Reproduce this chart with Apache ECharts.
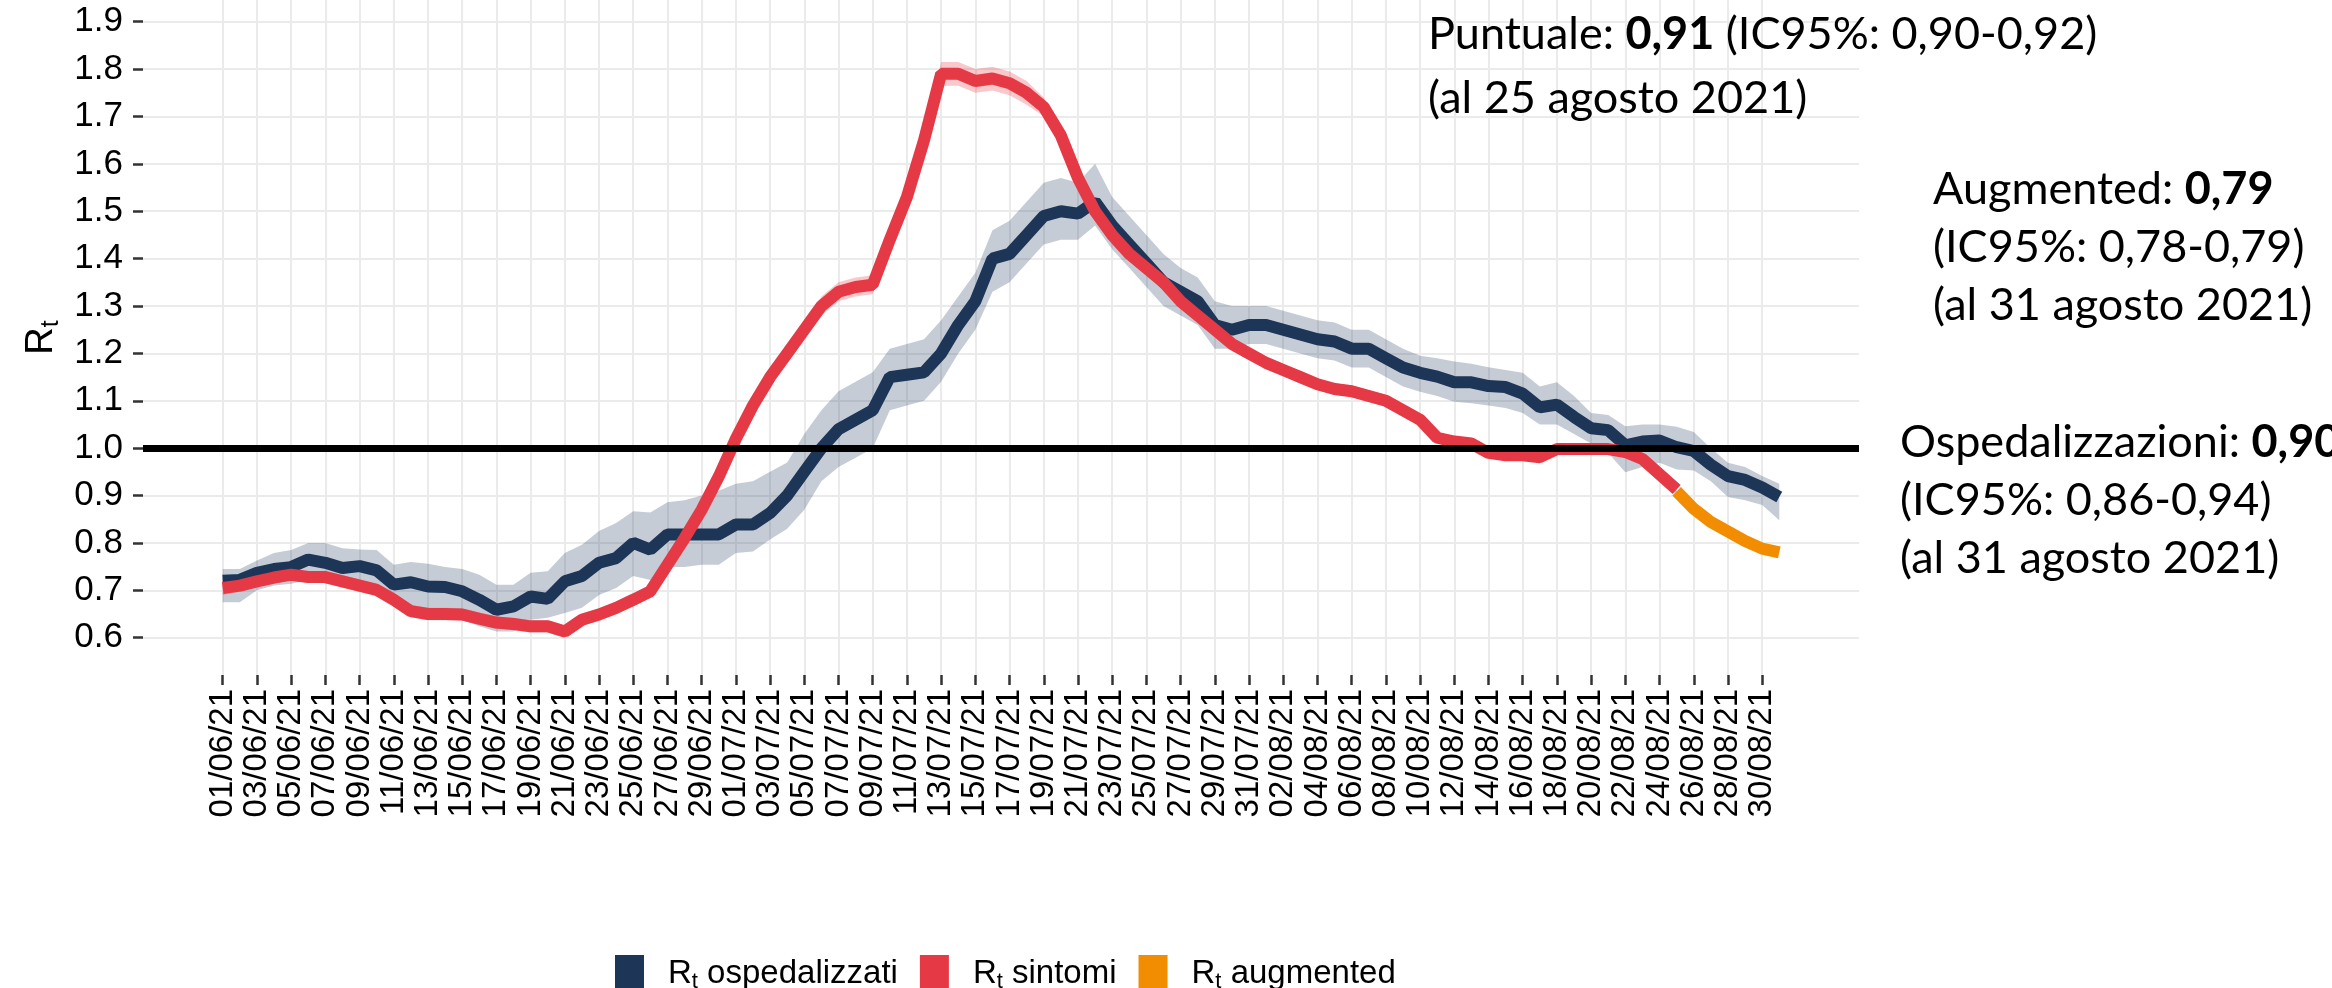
<!DOCTYPE html>
<html><head><meta charset="utf-8">
<script src="https://cdn.jsdelivr.net/npm/echarts@6/dist/echarts.min.js"></script>
<style>html,body{margin:0;padding:0;background:#fff}#c{width:2332px;height:988px}</style>
</head><body><div id="c"></div>
<script>
// ---- DATA (day index 0 = 01/06/21, last = 31/08/21) ----
const tickLabels = ['01/06/21','03/06/21','05/06/21','07/06/21','09/06/21','11/06/21','13/06/21','15/06/21','17/06/21','19/06/21','21/06/21','23/06/21','25/06/21','27/06/21','29/06/21',
 '01/07/21','03/07/21','05/07/21','07/07/21','09/07/21','11/07/21','13/07/21','15/07/21','17/07/21','19/07/21','21/07/21','23/07/21','25/07/21','27/07/21','29/07/21','31/07/21',
 '02/08/21','04/08/21','06/08/21','08/08/21','10/08/21','12/08/21','14/08/21','16/08/21','18/08/21','20/08/21','22/08/21','24/08/21','26/08/21','28/08/21','30/08/21'];
const yTicks = [0.6,0.7,0.8,0.9,1.0,1.1,1.2,1.3,1.4,1.5,1.6,1.7,1.8,1.9];

const ospedalizzati = [0.72,0.722,0.737,0.745,0.749,0.765,0.758,0.747,0.751,0.742,
 0.712,0.717,0.708,0.707,0.698,0.68,0.659,0.666,0.687,0.682,
 0.719,0.73,0.758,0.768,0.80,0.786,0.818,0.818,0.818,0.818,
 0.839,0.839,0.863,0.9,0.95,1.0,1.04,1.06,1.08,1.15,
 1.155,1.16,1.2,1.26,1.31,1.4,1.41,1.45,1.49,1.5,
 1.495,1.52,1.47,1.43,1.39,1.35,1.33,1.31,1.26,1.25,
 1.26,1.26,1.25,1.24,1.23,1.225,1.21,1.21,1.19,1.17,
 1.159,1.151,1.139,1.139,1.131,1.129,1.115,1.086,1.092,1.066,
 1.042,1.038,1.006,1.014,1.016,1.002,0.994,0.965,0.941,0.933,
 0.917,0.897];
const ospedalizzatiLo = [0.675,0.675,0.70,0.71,0.714,0.722,0.72,0.714,0.708,0.705,
 0.666,0.666,0.656,0.649,0.638,0.624,0.613,0.613,0.638,0.642,
 0.652,0.663,0.69,0.705,0.73,0.722,0.749,0.749,0.754,0.754,
 0.779,0.782,0.807,0.83,0.87,0.93,0.96,0.98,1.0,1.08,
 1.09,1.1,1.14,1.2,1.25,1.33,1.35,1.39,1.43,1.44,
 1.44,1.47,1.42,1.38,1.34,1.3,1.28,1.26,1.21,1.21,
 1.22,1.22,1.21,1.2,1.19,1.185,1.17,1.17,1.15,1.13,
 1.119,1.11,1.098,1.095,1.09,1.085,1.074,1.05,1.05,1.03,
 1.01,0.99,0.949,0.96,0.969,0.955,0.953,0.93,0.897,0.89,
 0.88,0.848];
const ospedalizzatiHi = [0.745,0.745,0.763,0.779,0.785,0.80,0.80,0.789,0.786,0.785,
 0.754,0.76,0.756,0.749,0.745,0.733,0.712,0.712,0.737,0.74,
 0.779,0.796,0.825,0.842,0.867,0.864,0.886,0.89,0.90,0.91,
 0.925,0.93,0.95,0.97,1.03,1.08,1.12,1.14,1.16,1.21,
 1.22,1.23,1.27,1.32,1.37,1.46,1.48,1.52,1.56,1.57,
 1.56,1.60,1.53,1.49,1.45,1.41,1.38,1.36,1.31,1.30,
 1.30,1.30,1.29,1.28,1.27,1.265,1.25,1.25,1.23,1.21,
 1.195,1.19,1.183,1.178,1.171,1.165,1.159,1.13,1.139,1.11,
 1.074,1.07,1.046,1.05,1.05,1.045,1.034,1.0,0.969,0.96,
 0.941,0.925];

const sintomi = [0.705,0.71,0.719,0.727,0.733,0.728,0.728,0.719,0.71,0.701,
 0.68,0.656,0.65,0.65,0.649,0.64,0.632,0.629,0.624,0.624,
 0.613,0.638,0.649,0.663,0.68,0.698,0.754,0.81,0.87,0.94,
 1.02,1.09,1.15,1.2,1.25,1.3,1.33,1.34,1.345,1.44,
 1.53,1.65,1.79,1.79,1.775,1.78,1.77,1.75,1.72,1.66,
 1.57,1.5,1.45,1.41,1.38,1.35,1.31,1.28,1.25,1.22,
 1.2,1.18,1.165,1.15,1.135,1.125,1.12,1.11,1.1,1.08,
 1.06,1.022,1.014,1.01,0.99,0.985,0.985,0.981,0.998,0.998,
 0.998,0.998,0.992,0.977,0.945,0.913];
const sintomiLo = [0.69,0.697,0.707,0.715,0.72,0.716,0.715,0.706,0.697,0.688,
 0.667,0.643,0.637,0.637,0.636,0.627,0.619,0.616,0.611,0.611,
 0.6,0.625,0.636,0.65,0.667,0.685,0.74,0.795,0.855,0.925,
 1.0,1.07,1.13,1.18,1.23,1.28,1.31,1.32,1.325,1.42,
 1.51,1.63,1.765,1.765,1.75,1.755,1.745,1.725,1.7,1.64,
 1.55,1.48,1.43,1.395,1.365,1.335,1.295,1.265,1.235,1.206,
 1.187,1.167,1.153,1.138,1.123,1.113,1.108,1.098,1.088,1.068,
 1.049,1.011,1.003,0.999,0.979,0.974,0.974,0.97,0.987,0.987,
 0.987,0.987,0.981,0.966,0.934,0.902];
const sintomiHi = [0.72,0.723,0.731,0.739,0.746,0.74,0.741,0.732,0.723,0.714,
 0.693,0.669,0.663,0.663,0.662,0.653,0.645,0.642,0.637,0.637,
 0.626,0.651,0.662,0.676,0.693,0.711,0.768,0.825,0.885,0.955,
 1.04,1.11,1.17,1.22,1.27,1.32,1.35,1.36,1.365,1.46,
 1.55,1.67,1.815,1.815,1.8,1.805,1.795,1.775,1.74,1.68,
 1.59,1.52,1.47,1.425,1.395,1.365,1.325,1.295,1.265,1.234,
 1.213,1.193,1.177,1.162,1.147,1.137,1.132,1.122,1.112,1.092,
 1.071,1.033,1.025,1.021,1.001,0.996,0.996,0.992,1.009,1.009,
 1.009,1.009,1.003,0.988,0.956,0.924];

const augmented = [0.909,0.872,0.844,0.824,0.804,0.788,0.78];
const augmentedStartDay = 85; // 25/08/21
const threshold = 1.0;

// ---- CHART ----
const NAVY = '#1D3557', RED = '#E63946', ORANGE = '#F28C00';
const FONT = '"Liberation Sans", Arial, sans-serif';
const ANN = 'Lato, "Liberation Sans", sans-serif';
const tickDays = tickLabels.map((_, i) => 2 * i);
const pts = (arr, start) => arr.map((v, i) => [start + i, v]);

function band(lo, hi, start, color) {
  return {
    type: 'custom', silent: true, z: 1,
    data: lo.map((v, i) => [start + i, v, hi[i]]),
    encode: { x: 0, y: [1, 2] },
    renderItem(params, api) {
      if (params.dataIndex !== 0) return null;
      const top = [], bot = [];
      for (let i = 0; i < lo.length; i++) {
        top.push(api.coord([start + i, hi[i]]));
        bot.push(api.coord([start + i, lo[i]]));
      }
      return { type: 'polygon', shape: { points: top.concat(bot.reverse()) }, style: { fill: color } };
    }
  };
}

const legendRich = {
  r: { fontSize: 33, fontFamily: FONT, color: '#000', padding: [0, 0, 0, 19] },
  s: { fontSize: 22, fontFamily: FONT, color: '#000', padding: [16, 0, 0, 0] },
  n: { fontSize: 33, fontFamily: FONT, color: '#000' }
};
const annRich = lh => ({
  n: { fontSize: 45, fontFamily: ANN, color: '#000', lineHeight: lh },
  b: { fontSize: 45, fontWeight: 'bold', fontFamily: ANN, color: '#000', lineHeight: lh }
});

const chart = echarts.init(document.getElementById('c'), null, { renderer: 'canvas' });
chart.setOption({
  animation: false,
  backgroundColor: '#fff',
  grid: { left: 143, right: 473, top: 0, bottom: 313, containLabel: false },
  xAxis: {
    type: 'value', min: -4.66, max: 95.66,
    axisLine: { show: false, onZero: false },
    axisTick: { show: true, customValues: tickDays, length: 10, lineStyle: { color: '#333', width: 2.5 } },
    axisLabel: { customValues: tickDays, rotate: 90, margin: 14, fontSize: 33, fontFamily: FONT, color: '#000',
      formatter: v => tickLabels[Math.round(v / 2)] },
    splitLine: { show: true, lineStyle: { color: '#EBEBEB', width: 2 } }
  },
  yAxis: {
    type: 'value', min: 0.5213, max: 1.9458,
    name: '{r|R}{s|t}', nameLocation: 'middle', nameRotate: 90, nameGap: 76,
    nameTextStyle: { rich: { r: { fontSize: 38, fontFamily: FONT, color: '#000' }, s: { fontSize: 25, fontFamily: FONT, color: '#000', padding: [18, 0, 0, 0] } } },
    axisLine: { show: false, onZero: false },
    axisTick: { show: true, customValues: yTicks, length: 10, lineStyle: { color: '#333', width: 2.5 } },
    axisLabel: { customValues: yTicks, margin: 20, fontSize: 35, fontFamily: FONT, color: '#000', formatter: v => v.toFixed(1) },
    splitLine: { show: true, lineStyle: { color: '#EBEBEB', width: 2 } }
  },
  legend: {
    left: 610, top: 950, itemWidth: 29, itemHeight: 38, itemGap: 22, icon: 'rect',
    data: ['ospedalizzati', 'sintomi', 'augmented'],
    formatter: name => '{r|R}{s|t}{n| ' + name + '}',
    textStyle: { rich: legendRich }
  },
  series: [
    band(ospedalizzatiLo, ospedalizzatiHi, 0, 'rgba(29,53,87,0.25)'),
    band(sintomiLo, sintomiHi, 0, 'rgba(230,57,70,0.28)'),
    { name: 'ospedalizzati', type: 'line', z: 3, data: pts(ospedalizzati, 0), showSymbol: false, symbol: 'none',
      itemStyle: { color: NAVY }, lineStyle: { color: NAVY, width: 12 } },
    { name: 'sintomi', type: 'line', z: 4, data: pts(sintomi, 0), showSymbol: false, symbol: 'none',
      itemStyle: { color: RED }, lineStyle: { color: RED, width: 12 } },
    { name: 'augmented', type: 'line', z: 4, data: pts(augmented, augmentedStartDay), showSymbol: false, symbol: 'none',
      itemStyle: { color: ORANGE }, lineStyle: { color: ORANGE, width: 12 } },
    { type: 'line', z: 6, data: [], silent: true,
      markLine: { silent: true, symbol: 'none', label: { show: false }, lineStyle: { color: '#000', width: 7, type: 'solid' },
        data: [{ yAxis: threshold }] } }
  ],
  graphic: [
    { type: 'text', z: 100, left: 1428, top: 12, style: { text: '{n|Puntuale: }{b|0,91}{n| (IC95%: 0,90-0,92)}\n{n|(al 25 agosto 2021)}', rich: annRich(64) } },
    { type: 'text', z: 100, left: 1933, top: 167, style: { text: '{n|Augmented: }{b|0,79}\n{n|(IC95%: 0,78-0,79)}\n{n|(al 31 agosto 2021)}', rich: annRich(58) } },
    { type: 'text', z: 100, left: 1900, top: 420, style: { text: '{n|Ospedalizzazioni: }{b|0,90}\n{n|(IC95%: 0,86-0,94)}\n{n|(al 31 agosto 2021)}', rich: annRich(58) } }
  ]
});
</script></body></html>
